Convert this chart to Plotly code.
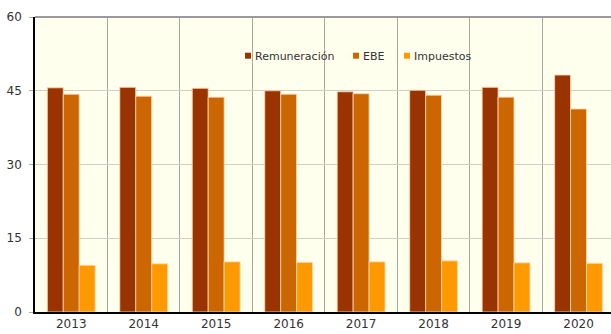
import plotly.graph_objects as go

years = ["2013", "2014", "2015", "2016", "2017", "2018", "2019", "2020"]
remuneracion = [45.6, 45.7, 45.5, 45.0, 44.8, 45.1, 45.7, 48.2]
ebe = [44.3, 43.9, 43.7, 44.3, 44.4, 44.1, 43.7, 41.3]
impuestos = [9.5, 9.8, 10.2, 10.1, 10.2, 10.4, 10.0, 9.9]

series = [
    ("Remuneración", remuneracion, "#993300"),
    ("EBE", ebe, "#CC6600"),
    ("Impuestos", impuestos, "#FF9900"),
]

font_family = "DejaVu Sans, Verdana, sans-serif"

fig = go.Figure()
for name, vals, color in series:
    fig.add_trace(go.Bar(
        x=years, y=vals, name=name,
        marker=dict(color=color, line=dict(color="rgba(255,214,170,0.85)", width=1)),
        showlegend=False,
    ))

# Hand-placed legend: small square swatch followed by the label
legend_items = [("Remuneración", "#993300", 245), ("EBE", "#CC6600", 353), ("Impuestos", "#FF9900", 404)]
shapes = []
annotations = []
for label, color, px in legend_items:
    shapes.append(dict(type="rect", xref="paper", yref="paper",
                       x0=(px - 35) / 576, x1=(px - 35 + 6) / 576,
                       y0=(312 - 58.7) / 295, y1=(312 - 52.7) / 295,
                       fillcolor=color, line=dict(width=0)))
    annotations.append(dict(xref="paper", yref="paper",
                            x=(px - 35 + 7.5) / 576, y=(312 - 56) / 295,
                            xanchor="left", yanchor="middle", showarrow=False,
                            text=label, font=dict(family=font_family, size=11, color="#333333")))

# Grey border along the top of the plot
shapes.append(dict(type="line", xref="paper", yref="paper", x0=0, x1=1, y0=1, y1=1,
                   line=dict(color="#9a9a9a", width=2)))

fig.update_layout(
    width=611, height=334,
    margin=dict(l=35, r=0, t=17, b=22),
    paper_bgcolor="white",
    plot_bgcolor="#FFFFEE",
    barmode="group",
    bargap=0.34,
    bargroupgap=0,
    font=dict(family=font_family, size=12, color="#333333"),
    shapes=shapes,
    annotations=annotations,
    xaxis=dict(
        type="category",
        range=[-0.5, 7.448],
        tickson="boundaries",
        showgrid=True, gridcolor="#a9a9a2", gridwidth=1,
        showline=True, linecolor="black", linewidth=1.5,
        ticks="outside", ticklen=8, tickcolor="rgba(0,0,0,0)",
        tickfont=dict(size=12, color="#333333"),
    ),
    yaxis=dict(
        range=[0, 60],
        tickvals=[0, 15, 30, 45, 60],
        showgrid=True, gridcolor="#cfcfc4", gridwidth=1,
        zeroline=False,
        showline=True, linecolor="black", linewidth=1.5,
        ticks="outside", ticklen=4, tickcolor="#aaaaaa",
        ticklabelstandoff=5,
        tickfont=dict(size=12, color="#333333"),
    ),
)

fig.write_html("out.html")
